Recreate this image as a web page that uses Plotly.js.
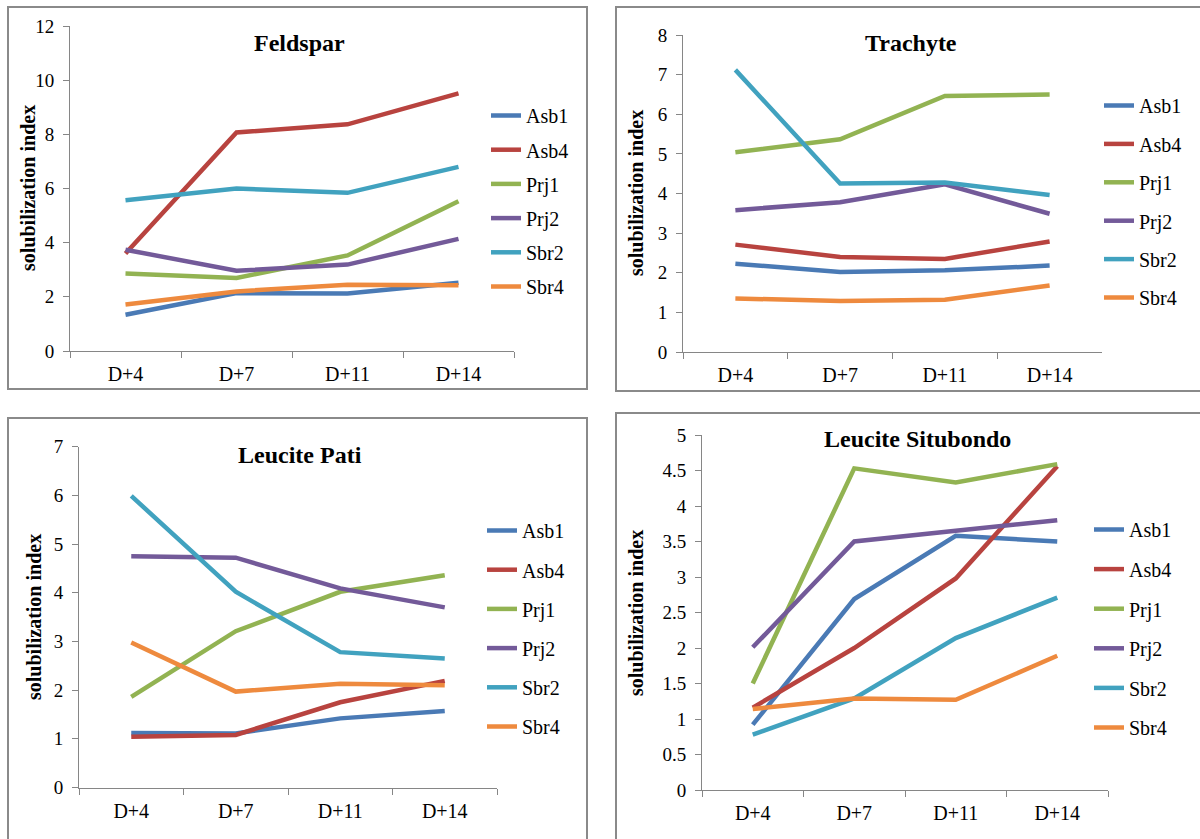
<!DOCTYPE html>
<html>
<head>
<meta charset="utf-8">
<script src="https://cdn.plot.ly/plotly-3.0.1.min.js"></script>
<style>html,body{margin:0;padding:0;background:#fff;}#chart{width:1200px;height:839px;}</style>
</head>
<body>
<div id="chart"></div>
<script>
const categories = ['D+4', 'D+7', 'D+11', 'D+14'];
const seriesNames = ['Asb1', 'Asb4', 'Prj1', 'Prj2', 'Sbr2', 'Sbr4'];
const seriesColors = ['#4a7ab5', '#b8433f', '#92b352', '#735a99', '#41a2bf', '#ee8a3e'];
const panelTitles = ['Feldspar', 'Trachyte', 'Leucite Pati', 'Leucite Situbondo'];

const feldsparAsb1 = [1.34, 2.14, 2.12, 2.52];
const feldsparAsb4 = [3.60, 8.07, 8.37, 9.51];
const feldsparPrj1 = [2.86, 2.70, 3.53, 5.53];
const feldsparPrj2 = [3.74, 2.96, 3.19, 4.14];
const feldsparSbr2 = [5.57, 6.00, 5.84, 6.80];
const feldsparSbr4 = [1.72, 2.20, 2.45, 2.43];

const trachyteAsb1 = [2.23, 2.02, 2.06, 2.18];
const trachyteAsb4 = [2.71, 2.40, 2.35, 2.79];
const trachytePrj1 = [5.04, 5.37, 6.46, 6.50];
const trachytePrj2 = [3.58, 3.78, 4.23, 3.49];
const trachyteSbr2 = [7.12, 4.25, 4.28, 3.96];
const trachyteSbr4 = [1.35, 1.29, 1.32, 1.68];

const patiAsb1 = [1.12, 1.11, 1.42, 1.57];
const patiAsb4 = [1.04, 1.08, 1.75, 2.19];
const patiPrj1 = [1.86, 3.21, 4.02, 4.36];
const patiPrj2 = [4.75, 4.72, 4.09, 3.70];
const patiSbr2 = [5.99, 4.02, 2.78, 2.65];
const patiSbr4 = [2.98, 1.97, 2.13, 2.10];

const situbondoAsb1 = [0.92, 2.69, 3.58, 3.50];
const situbondoAsb4 = [1.16, 2.00, 2.98, 4.56];
const situbondoPrj1 = [1.50, 4.53, 4.33, 4.59];
const situbondoPrj2 = [2.01, 3.50, 3.65, 3.80];
const situbondoSbr2 = [0.78, 1.29, 2.14, 2.71];
const situbondoSbr4 = [1.14, 1.29, 1.27, 1.89];

const yRanges = [[0, 12], [0, 8], [0, 7], [0, 5]];
const yDticks = [2, 1, 1, 0.5];

const panels = [
  [feldsparAsb1, feldsparAsb4, feldsparPrj1, feldsparPrj2, feldsparSbr2, feldsparSbr4],
  [trachyteAsb1, trachyteAsb4, trachytePrj1, trachytePrj2, trachyteSbr2, trachyteSbr4],
  [patiAsb1, patiAsb4, patiPrj1, patiPrj2, patiSbr2, patiSbr4],
  [situbondoAsb1, situbondoAsb4, situbondoPrj1, situbondoPrj2, situbondoSbr2, situbondoSbr4]
];

const W = 1200, H = 839;
const px = v => v / W;
const py = v => (H - v) / H;

// layout geometry (pixels)
const xDom = [[70, 514], [683, 1102], [79, 497], [702, 1108]];
const yDom = [[351, 26], [352, 35], [787.5, 446.7], [790, 435]];
const titlePos = [[299, 43], [911, 43], [300, 455], [917, 439]];
const yTitlePos = [[28, 188], [636, 193], [34, 617], [636, 613]];
const legendPos = [[486, 96], [1099, 86], [482, 511], [1089, 510]];
const legendGaps = [5.2, 9.4, 10.2, 10.6];
const boxes = [[8, 7, 587, 389], [616, 7, 1205, 391], [8, 418, 587, 845], [616, 413, 1205, 845]];

const serif = 'Liberation Serif';
const axisGray = '#868686';

const traces = [];
const layout = {
  width: W, height: H,
  margin: {l: 0, r: 0, t: 0, b: 0},
  paper_bgcolor: '#ffffff', plot_bgcolor: 'rgba(0,0,0,0)',
  font: {family: serif, color: '#000', size: 19},
  annotations: [], shapes: [],
  showlegend: true
};

panels.forEach((series, p) => {
  const n = p + 1;
  const xa = n === 1 ? 'x' : 'x' + n;
  const ya = n === 1 ? 'y' : 'y' + n;
  const lg = n === 1 ? 'legend' : 'legend' + n;
  series.forEach((vals, s) => {
    traces.push({
      type: 'scatter', mode: 'lines',
      x: categories, y: vals, name: seriesNames[s],
      xaxis: xa, yaxis: ya, legend: lg, legendgroup: 'g' + n + '_' + s,
      line: {color: seriesColors[s], width: 4.5},
      hoverinfo: 'x+y+name'
    });
  });
  const xKey = n === 1 ? 'xaxis' : 'xaxis' + n;
  const yKey = n === 1 ? 'yaxis' : 'yaxis' + n;
  layout[xKey] = {
    domain: [px(xDom[p][0]), px(xDom[p][1])],
    anchor: ya, type: 'category', range: [-0.5, 3.5],
    showline: true, linecolor: axisGray, linewidth: 1,
    ticks: 'outside', tickson: 'boundaries', ticklen: 6, tickcolor: axisGray,
    ticklabelstandoff: 5,
    showgrid: false, zeroline: false, fixedrange: true,
    tickfont: {family: serif, size: 20, color: '#000'}
  };
  layout[yKey] = {
    domain: [py(yDom[p][0]), py(yDom[p][1])],
    anchor: xa, range: yRanges[p], dtick: yDticks[p], tick0: 0,
    showline: true, linecolor: axisGray, linewidth: 1,
    ticks: 'outside', ticklen: 6, tickcolor: axisGray,
    ticklabelstandoff: 5,
    showgrid: false, zeroline: false, fixedrange: true,
    tickfont: {family: serif, size: 19, color: '#000'}
  };
  layout[lg] = {
    x: px(legendPos[p][0]), y: py(legendPos[p][1]),
    xanchor: 'left', yanchor: 'top',
    xref: 'paper', yref: 'paper',
    bgcolor: 'rgba(0,0,0,0)', borderwidth: 0,
    font: {family: serif, size: 20, color: '#000'},
    tracegroupgap: legendGaps[p], itemwidth: 30
  };
  layout.annotations.push({
    text: '<b>' + panelTitles[p] + '</b>', xref: 'paper', yref: 'paper',
    x: px(titlePos[p][0]), y: py(titlePos[p][1]), xanchor: 'center', yanchor: 'middle',
    showarrow: false, font: {family: serif, size: 24, color: '#000'}
  });
  layout.annotations.push({
    text: '<b>solubilization index</b>', xref: 'paper', yref: 'paper',
    x: px(yTitlePos[p][0]), y: py(yTitlePos[p][1]), xanchor: 'center', yanchor: 'middle',
    textangle: -90, showarrow: false, font: {family: serif, size: 20, color: '#000'}
  });
  const b = boxes[p];
  layout.shapes.push({
    type: 'rect', xref: 'paper', yref: 'paper',
    x0: px(b[0]), x1: px(b[2]), y0: py(b[3]), y1: py(b[1]),
    line: {color: '#8a8a8a', width: 2}, fillcolor: 'rgba(0,0,0,0)', layer: 'below'
  });
});

Plotly.newPlot('chart', traces, layout, {displayModeBar: false, staticPlot: true});
</script>
</body>
</html>
